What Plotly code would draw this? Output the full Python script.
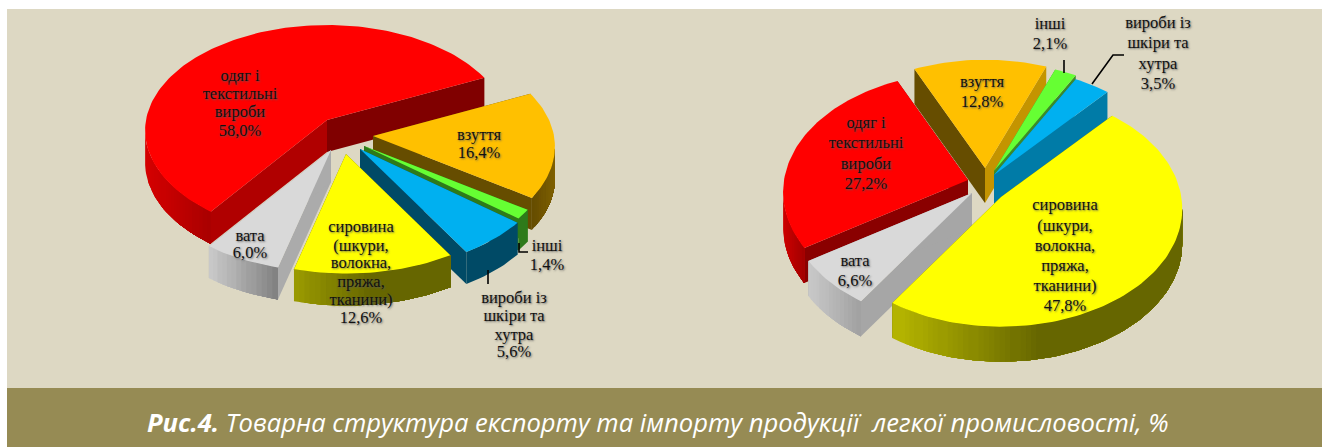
import math
import plotly.graph_objects as go

# ---------- data ----------
export_names = ["одяг і текстильні вироби", "взуття", "інші", "вироби із шкіри та хутра",
                "вата", "сировина"]
export_values = [58.0, 16.4, 1.4, 5.6, 6.0, 12.6]
import_names = ["взуття", "інші", "вироби із шкіри та хутра", "одяг і текстильні вироби",
                "вата", "сировина"]
import_values = [12.8, 2.1, 3.5, 27.2, 6.6, 47.8]
caption_bold = "Рис.4."
caption_text = " Товарна структура експорту та імпорту продукції\u00a0 легкої промисловості, %"

# ---------- style ----------
PAGE_W, PAGE_H = 1322, 447
PANEL = "#DDD8C3"
STRIP = "#968B54"
TOP = {"одяг і текстильні вироби": "#FF0000", "взуття": "#FFC000", "інші": "#66FF33",
       "вироби із шкіри та хутра": "#00B0F0", "вата": "#D9D9D9", "сировина": "#FFFF00"}


def project(theta, ax, ay, R, q, k):
    X, Y = math.sin(math.radians(theta)), math.cos(math.radians(theta))
    w = 1 + k * Y
    return ax + R * X / w, ay - R * q * Y / w


def mix(c1, c2, t):
    a = [int(c1[i:i + 2], 16) for i in (1, 3, 5)]
    b = [int(c2[i:i + 2], 16) for i in (1, 3, 5)]
    return "#%02X%02X%02X" % tuple(round(x + (y - x) * t) for x, y in zip(a, b))


fig = go.Figure()


def poly(xs, ys, color):
    fig.add_trace(go.Scatter(x=xs, y=ys, mode="lines", fill="toself", fillcolor=color,
                             line=dict(color=color, width=0), hoverinfo="skip",
                             showlegend=False))


def slice3d(name, value, t0, apex, R, q, k, depth, style):
    t1 = t0 + value * 3.6
    ax, ay = apex
    R = R * style.get("scale", 1.0)
    n = max(4, int((t1 - t0) / 1.5))
    thetas = [t0 + (t1 - t0) * i / n for i in range(n + 1)]
    pts = [project(t, ax, ay, R, q, k) for t in thetas]
    # radial faces
    for (px, py), col in ((pts[0], style["start"]), (pts[-1], style["end"])):
        poly([ax, px, px, ax, ax], [ay, py, py + depth, ay + depth, ay], col)
    # outer wall: only the arc that faces the viewer, shaded left to right by
    # overlapping bands so that no seams show
    front = [p for t, p in zip(thetas, pts) if math.cos(math.radians(t)) < -k]
    if len(front) >= 2:
        front.sort(key=lambda p: p[0])
        xmin, xmax = style.get("range", (front[0][0], front[-1][0]))
        c0, c1 = style["wall"]
        bands = 1 if c0 == c1 else 24
        for b in range(bands):
            edge = xmin + (xmax - xmin) * b / bands
            part = [p for p in front if p[0] >= edge]
            if b == 0:
                part = front
            if len(part) < 2:
                continue
            xs = [p[0] for p in part] + [p[0] for p in reversed(part)] + [part[0][0]]
            ys = [p[1] for p in part] + [p[1] + depth for p in reversed(part)] + [part[0][1]]
            poly(xs, ys, mix(c0, c1, b / max(1, bands - 1)))
    # top face
    poly([ax] + [p[0] for p in pts] + [ax], [ay] + [p[1] for p in pts] + [ay], TOP[name])


# ---------- export pie (clockwise from the red slice) ----------
L = dict(R=181, q=0.577, k=0.10, depth=32)
left_order = ["одяг і текстильні вироби", "взуття", "інші", "вироби із шкіри та хутра",
              "сировина", "вата"]
left_start = -143.8
left_apex = {"одяг і текстильні вироби": (327, 120), "взуття": (373, 136), "інші": (364, 146),
             "вироби із шкіри та хутра": (360, 149), "сировина": (346, 154), "вата": (331, 150)}
left_style = {
    "одяг і текстильні вироби": dict(start="#B00000", end="#800000", wall=("#D40000", "#A80000")),
    "взуття": dict(start="#664D00", end="#664D00", wall=("#664D00", "#7F6000")),
    "інші": dict(start="#2E7A1A", end="#2E7A1A", wall=("#2E7A1A", "#2E7A1A"), scale=1.03),
    "вироби із шкіри та хутра": dict(start="#004A66", end="#004A66", wall=("#004A66", "#004A66"), scale=1.05),
    "сировина": dict(start="#666600", end="#666600", wall=("#999900", "#666600"), range=(293, 370), scale=1.03),
    "вата": dict(start="#ABABAB", end="#ABABAB", wall=("#C8C8C8", "#7F7F7F"), scale=1.05),
}
lv = dict(zip(export_names, export_values))
angle = left_start
left_angles = {}
for nm in left_order:
    left_angles[nm] = angle
    angle += lv[nm] * 3.6
for nm in ["одяг і текстильні вироби", "взуття", "інші", "вироби із шкіри та хутра", "вата", "сировина"]:
    slice3d(nm, lv[nm], left_angles[nm], left_apex[nm], L["R"], L["q"], L["k"], L["depth"], left_style[nm])

# ---------- import pie ----------
Rp = dict(R=184, q=0.647, k=0.10, depth=35)
right_order = ["сировина", "вата", "одяг і текстильні вироби", "взуття", "інші",
               "вироби із шкіри та хутра"]
right_start = 41.5
right_apex = {"сировина": (1001, 197), "вата": (972, 193), "одяг і текстильні вироби": (968, 180),
              "взуття": (985, 168), "інші": (994, 171), "вироби із шкіри та хутра": (994, 175)}
right_style = {
    "сировина": dict(start="#666600", end="#666600", wall=("#B3B300", "#666600"), range=(895, 1040), scale=0.98),
    "вата": dict(start="#A6A6A6", end="#A6A6A6", wall=("#C8C8C8", "#A0A0A0")),
    "одяг і текстильні вироби": dict(start="#8A0000", end="#8A0000", wall=("#CC0000", "#A00000")),
    "взуття": dict(start="#664D00", end="#C49400", wall=("#664D00", "#664D00")),
    "інші": dict(start="#3C8A2A", end="#3C8A2A", wall=("#3C8A2A", "#3C8A2A")),
    "вироби із шкіри та хутра": dict(start="#007BA7", end="#007BA7", wall=("#007BA7", "#007BA7")),
}
rv = dict(zip(import_names, import_values))
angle = right_start
right_angles = {}
for nm in right_order:
    right_angles[nm] = angle
    angle += rv[nm] * 3.6
for nm in ["взуття", "інші", "вироби із шкіри та хутра", "одяг і текстильні вироби", "вата", "сировина"]:
    slice3d(nm, rv[nm], right_angles[nm], right_apex[nm], Rp["R"], Rp["q"], Rp["k"], Rp["depth"], right_style[nm])

# ---------- leader lines ----------
leaders = [
    ([519, 519, 528], [243, 252, 252]),
    ([488, 488], [270, 284]),
    ([1064, 1064], [60, 73]),
    ([1124, 1113, 1092], [55, 55, 84]),
]
for xs, ys in leaders:
    fig.add_trace(go.Scatter(x=xs, y=ys, mode="lines", line=dict(color="#000000", width=1.6),
                             hoverinfo="skip", showlegend=False))

# ---------- data labels (one text point per line) ----------
labels = [
    (240, [77, 95, 113, 132], ["одяг і", "текстильні", "вироби", "58,0%"]),
    (479, [136, 154], ["взуття", "16,4%"]),
    (361, [228, 247, 264, 283, 301, 319], ["сировина", "(шкури,", "волокна,", "пряжа,", "тканини)", "12,6%"]),
    (250, [237, 254], ["вата", "6,0%"]),
    (547, [247, 266], ["інші", "1,4%"]),
    (514, [299, 317, 336, 353], ["вироби із", "шкіри та", "хутра", "5,6%"]),
    (866, [124, 144, 165, 185], ["одяг і", "текстильні", "вироби", "27,2%"]),
    (982, [83, 103], ["взуття", "12,8%"]),
    (1050, [25, 45], ["інші", "2,1%"]),
    (1158, [24, 44, 65, 85], ["вироби із", "шкіри та", "хутра", "3,5%"]),
    (855, [262, 282], ["вата", "6,6%"]),
    (1065, [206, 227, 247, 267, 287, 307], ["сировина", "(шкури,", "волокна,", "пряжа,", "тканини)", "47,8%"]),
]
for x, ys, texts in labels:
    fig.add_trace(go.Scatter(
        x=[x] * len(ys), y=ys, text=texts, mode="text", textposition="middle center",
        textfont=dict(family="Liberation Serif", size=16.5, color="#111111",
                      shadow="1px 1px 2px rgba(90,90,90,0.8)"),
        hoverinfo="skip", showlegend=False))

fig.add_annotation(x=658, y=422, xref="x", yref="y", showarrow=False,
                   text=f"<b><i>{caption_bold}</i></b><i>{caption_text}</i>",
                   font=dict(family="Open Sans", size=25.6, color="#FFFFFF"))

fig.update_layout(
    width=PAGE_W, height=PAGE_H, margin=dict(l=0, r=0, t=0, b=0),
    paper_bgcolor="#FFFFFF", plot_bgcolor="#FFFFFF", showlegend=False,
    xaxis=dict(range=[0, PAGE_W], visible=False, fixedrange=True),
    yaxis=dict(range=[PAGE_H, 0], visible=False, fixedrange=True),
    shapes=[
        dict(type="rect", xref="x", yref="y", x0=7, x1=PAGE_W, y0=9, y1=388,
             fillcolor=PANEL, line_width=0, layer="below"),
        dict(type="rect", xref="x", yref="y", x0=7, x1=PAGE_W, y0=388, y1=PAGE_H,
             fillcolor=STRIP, line_width=0, layer="below"),
    ],
)
fig.write_html("out.html", config={"displayModeBar": False},
               post_script="document.body.style.margin='0';")
